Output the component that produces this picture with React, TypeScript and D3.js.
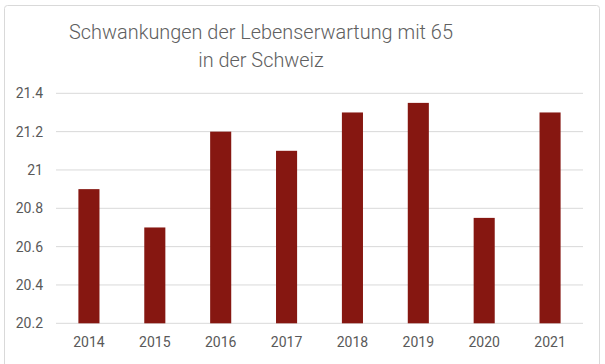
import React from 'react';
import * as d3 from 'd3';

const years = ['2014', '2015', '2016', '2017', '2018', '2019', '2020', '2021'];
const lifeExpectancy = [20.9, 20.7, 21.2, 21.1, 21.3, 21.35, 20.75, 21.3];
const yTicks = [20.2, 20.4, 20.6, 20.8, 21, 21.2, 21.4];
const titleLines = ['Schwankungen der Lebenserwartung mit 65', 'in der Schweiz'];

const width = 605;
const height = 364;
const margin = { top: 93.3, right: 22, bottom: 40.7, left: 56 };
const textColor = '#595959';
const font = 'Roboto, sans-serif';

export default function App() {
  const x = d3.scaleBand()
    .domain(years)
    .range([margin.left, width - margin.right])
    .paddingInner(0.68)
    .paddingOuter(0.34);

  const y = d3.scaleLinear()
    .domain([20.2, 21.4])
    .range([height - margin.bottom, margin.top]);

  return (
    <svg
      width={width}
      height={height}
      style={{ position: 'absolute', left: 0, top: 0, background: '#fff' }}
    >
      <rect x={4.5} y={5.5} width={595} height={380} rx={3} fill="#fff" stroke="#d9d9d9" />

      {titleLines.map((t, i) => (
        <text
          key={t}
          x={261}
          y={39 + i * 28}
          textAnchor="middle"
          fontFamily={'"Roboto Light", Roboto, sans-serif'}
          fontWeight={300}
          fontSize={19.9}
          fill="#606060"
        >
          {t}
        </text>
      ))}

      {yTicks.map(t => (
        <g key={t}>
          <line
            x1={margin.left}
            x2={width - margin.right}
            y1={y(t)}
            y2={y(t)}
            stroke="#d9d9d9"
            strokeWidth={1}
          />
          <text
            x={43}
            y={y(t)}
            dy="0.35em"
            textAnchor="end"
            fontFamily={font}
            fontSize={14}
            fill={textColor}
          >
            {d3.format('')(t)}
          </text>
        </g>
      ))}

      {years.map((yr, i) => (
        <rect
          key={yr}
          x={x(yr)}
          y={y(lifeExpectancy[i])}
          width={x.bandwidth()}
          height={y(20.2) - y(lifeExpectancy[i])}
          fill="#861711"
        />
      ))}

      {years.map(yr => (
        <text
          key={yr}
          x={(x(yr) ?? 0) + x.bandwidth() / 2}
          y={346.5}
          textAnchor="middle"
          fontFamily={font}
          fontSize={14}
          fill={textColor}
        >
          {yr}
        </text>
      ))}
    </svg>
  );
}
